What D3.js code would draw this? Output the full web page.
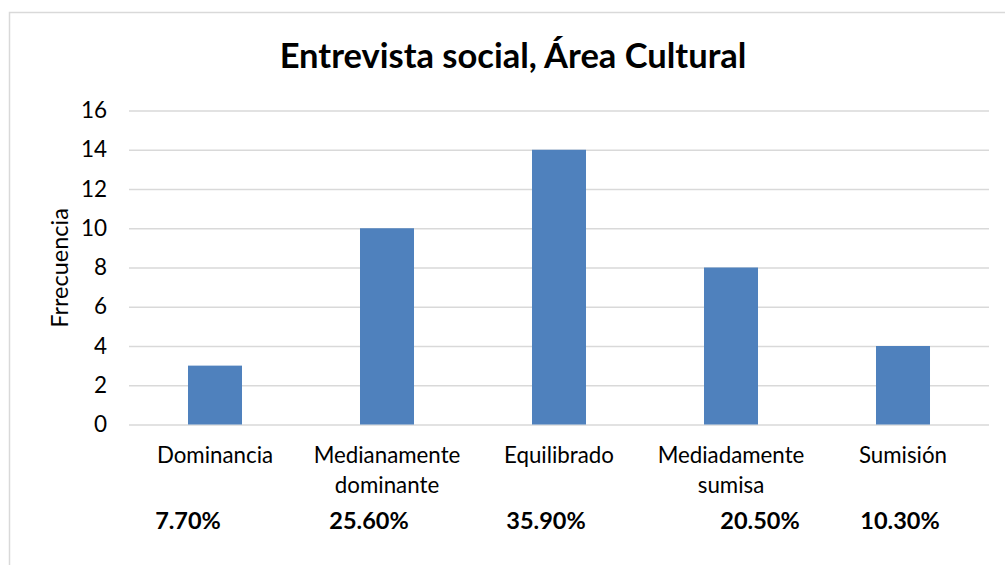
<!DOCTYPE html>
<html>
<head>
<meta charset="utf-8">
<script src="https://cdn.jsdelivr.net/npm/d3@7"></script>
<style>
  html, body { margin: 0; padding: 0; background: #fff; }
  svg { display: block; font-family: Lato, "Open Sans", sans-serif; }
</style>
</head>
<body>
<svg id="chart" width="1005" height="565"></svg>
<script>
// Frequencies per category of the cultural-area social interview
const categories = [["Dominancia"], ["Medianamente", "dominante"], ["Equilibrado"], ["Mediadamente", "sumisa"], ["Sumisión"]];
const frequencies = [3, 10, 14, 8, 4];
const percentLabels = ["7.70%", "25.60%", "35.90%", "20.50%", "10.30%"];
const yTicks = [0, 2, 4, 6, 8, 10, 12, 14, 16];

// Layout
const W = 1005, H = 565;
const plot = { left: 129, right: 989, top: 110.5, bottom: 424.5 };
const percentShift = [-27, -18, -13, 29, -3]; // horizontal nudge of the percentage text boxes

const svg = d3.select("#chart");

// Outer chart frame
svg.append("rect")
  .attr("x", 9.5).attr("y", 12.5)
  .attr("width", W + 20).attr("height", H + 20)
  .attr("fill", "#fff").attr("stroke", "#D9D9D9").attr("stroke-width", 1.5);

const x = d3.scaleBand()
  .domain(d3.range(categories.length))
  .range([plot.left, plot.right])
  .paddingInner(0.686).paddingOuter(0.343);

const y = d3.scaleLinear().domain([0, 16]).range([plot.bottom, plot.top]);

// Gridlines + tick labels through a left axis
const yAxis = d3.axisLeft(y)
  .tickValues(yTicks)
  .tickSize(-(plot.right - plot.left))
  .tickPadding(22);

const gy = svg.append("g")
  .attr("transform", `translate(${plot.left},0)`)
  .call(yAxis);
gy.select(".domain").remove();
gy.selectAll(".tick line").attr("stroke", "#D9D9D9").attr("stroke-width", 1.3);
gy.selectAll(".tick text")
  .attr("fill", "#000")
  .style("font-size", "22.5px")
  .style("font-family", "Lato, 'Open Sans', sans-serif");

// Bars
svg.append("g").selectAll("rect")
  .data(frequencies)
  .join("rect")
  .attr("x", (d, i) => x(i))
  .attr("y", d => y(d))
  .attr("width", x.bandwidth())
  .attr("height", d => y(0) - y(d))
  .attr("fill", "#4F81BD");

// Category labels (multi-line)
const catG = svg.append("g");
categories.forEach((lines, i) => {
  const t = catG.append("text")
    .attr("x", x(i) + x.bandwidth() / 2)
    .attr("y", 463)
    .attr("text-anchor", "middle")
    .style("font-size", "22.3px")
    .attr("fill", "#000");
  lines.forEach((ln, k) => {
    t.append("tspan")
      .attr("x", x(i) + x.bandwidth() / 2)
      .attr("dy", k === 0 ? 0 : 30)
      .text(ln);
  });
});

// Percentage labels
svg.append("g").selectAll("text")
  .data(percentLabels)
  .join("text")
  .attr("x", (d, i) => x(i) + x.bandwidth() / 2 + percentShift[i])
  .attr("y", 529)
  .attr("text-anchor", "middle")
  .style("font-size", "23.5px")
  .style("font-weight", "bold")
  .attr("fill", "#000")
  .text(d => d);

// Y-axis title
svg.append("text")
  .attr("transform", "translate(68,268) rotate(-90)")
  .attr("text-anchor", "middle")
  .style("font-size", "23.5px")
  .attr("fill", "#000")
  .text("Frrecuencia");

// Chart title
svg.append("text")
  .attr("x", 513)
  .attr("y", 68)
  .attr("text-anchor", "middle")
  .style("font-size", "34.5px")
  .style("font-weight", "bold")
  .attr("fill", "#000")
  .text("Entrevista social, Área Cultural");
</script>
</body>
</html>
